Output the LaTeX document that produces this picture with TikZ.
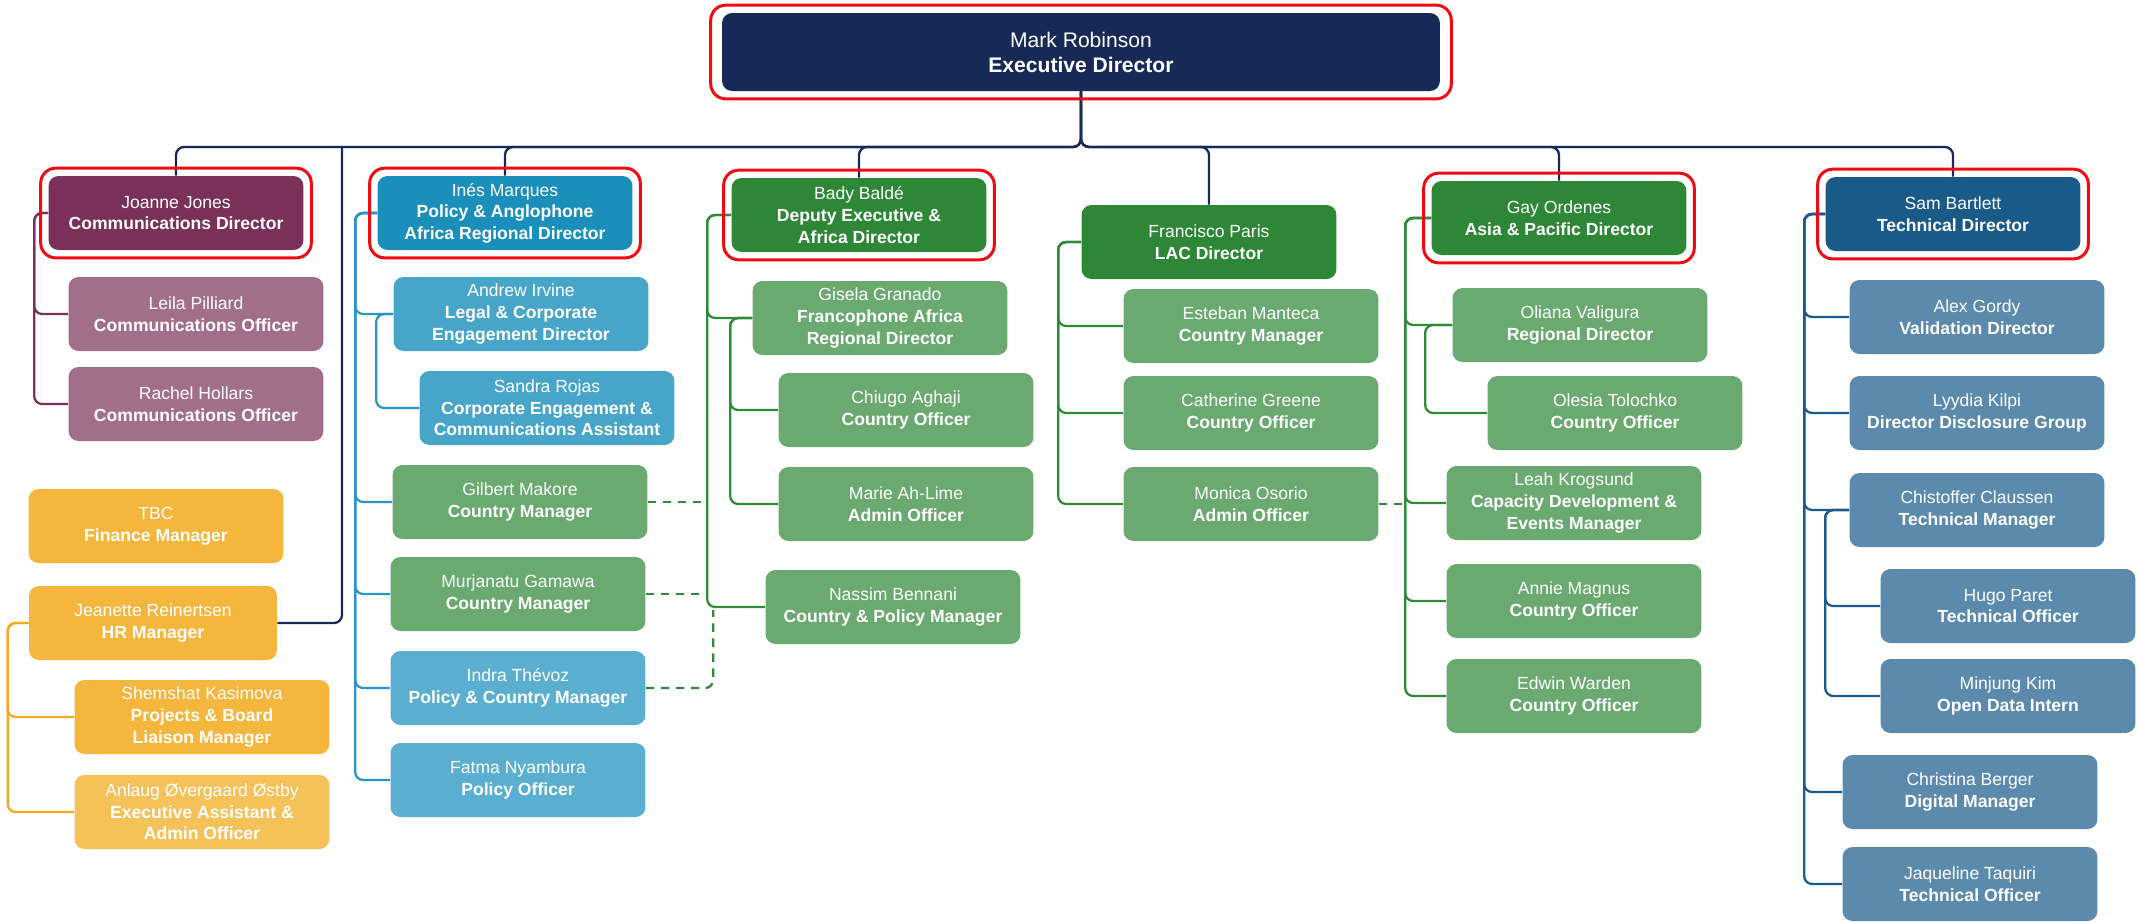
\documentclass[tikz,border=0pt]{standalone}
\usepackage{fontspec}
\setmainfont{Liberation Sans}
\usetikzlibrary{fit}

\definecolor{navy}{HTML}{172956}
\definecolor{plumdark}{HTML}{7B3059}
\definecolor{plumlight}{HTML}{A26F8B}
\definecolor{amber}{HTML}{F5B63E}
\definecolor{amberlight}{HTML}{F5C25A}
\definecolor{amberline}{HTML}{F4A81E}
\definecolor{inesblue}{HTML}{1B8FBB}
\definecolor{skyA}{HTML}{48A5CA}
\definecolor{skyB}{HTML}{5AAFD0}
\definecolor{skyline}{HTML}{2B95C5}
\definecolor{leafdark}{HTML}{2E8637}
\definecolor{leaflight}{HTML}{6AA970}
\definecolor{leafline}{HTML}{2F8A3A}
\definecolor{samblue}{HTML}{1A5A88}
\definecolor{steel}{HTML}{5B8AAD}
\definecolor{steelline}{HTML}{1D5A8B}
\definecolor{hired}{HTML}{F20A12}

\newcommand{\who}[2]{{\mdseries #1}\\#2}

\tikzset{
  card/.style={rectangle, rounded corners=0.2cm, text=white, align=center,
    minimum width=5.1cm, minimum height=1.48cm, inner sep=2pt,
    font=\fontsize{10}{12.3}\selectfont\bfseries},
  hilite/.style={draw=hired, line width=1.7pt, rounded corners=0.3cm, inner sep=0.15cm},
  link/.style={line width=1.3pt, rounded corners=0.16cm},
  dotlink/.style={link, draw=leafline, dash pattern=on 0.17cm off 0.13cm},
}

\begin{document}
\begin{tikzpicture}[x=0.02cm, y=-0.02cm]
\useasboundingbox (0,0) rectangle (2141,921);

% top
\node [card, fill=navy, minimum width=14.36cm, minimum height=1.56cm,
  font=\fontsize{12}{14.2}\selectfont\bfseries] (mark) at (1081,52) {\who{Mark Robinson}{Executive Director}};
\coordinate (bus) at (1081,147);
\coordinate (hrtop) at (342,147);

% communications and operations
\node [card, fill=plumdark] (joanne) at (176,213) {\who{Joanne Jones}{Communications Director}};
\node [card, fill=plumlight] (leila) at (196,314) {\who{Leila Pilliard}{Communications Officer}};
\node [card, fill=plumlight] (rachel) at (196,404) {\who{Rachel Hollars}{Communications Officer}};
\node [card, fill=amber] (tbc) at (156,526) {\who{TBC}{Finance Manager}};
\node [card, fill=amber, minimum width=4.96cm] (jeanette) at (153,623) {\who{Jeanette Reinertsen}{HR Manager}};
\node [card, fill=amber] (shemshat) at (202,717) {\who{Shemshat Kasimova}{Projects \& Board\\Liaison Manager}};
\node [card, fill=amberlight] (anlaug) at (202,812) {\who{Anlaug Øvergaard Østby}{Executive Assistant \&\\Admin Officer}};

% policy
\node [card, fill=inesblue] (ines) at (505,213) {\who{Inés Marques}{Policy \& Anglophone\\Africa Regional Director}};
\node [card, fill=skyA] (andrew) at (521,314) {\who{Andrew Irvine}{Legal \& Corporate\\Engagement Director}};
\node [card, fill=skyA] (sandra) at (547,408) {\who{Sandra Rojas}{Corporate Engagement \&\\Communications Assistant}};
\node [card, fill=leaflight] (gilbert) at (520,502) {\who{Gilbert Makore}{Country Manager}};
\node [card, fill=leaflight] (murjanatu) at (518,594) {\who{Murjanatu Gamawa}{Country Manager}};
\node [card, fill=skyB] (indra) at (518,688) {\who{Indra Thévoz}{Policy \& Country Manager}};
\node [card, fill=skyB] (fatma) at (518,780) {\who{Fatma Nyambura}{Policy Officer}};

% africa
\node [card, fill=leafdark] (bady) at (859,215) {\who{Bady Baldé}{Deputy Executive \&\\Africa Director}};
\node [card, fill=leaflight] (gisela) at (880,318) {\who{Gisela Granado}{Francophone Africa\\Regional Director}};
\node [card, fill=leaflight] (chiugo) at (906,410) {\who{Chiugo Aghaji}{Country Officer}};
\node [card, fill=leaflight] (marie) at (906,504) {\who{Marie Ah-Lime}{Admin Officer}};
\node [card, fill=leaflight] (nassim) at (893,607) {\who{Nassim Bennani}{Country \& Policy Manager}};

% lac
\node [card, fill=leafdark] (francisco) at (1209,242) {\who{Francisco Paris}{LAC Director}};
\node [card, fill=leaflight] (esteban) at (1251,326) {\who{Esteban Manteca}{Country Manager}};
\node [card, fill=leaflight] (catherine) at (1251,413) {\who{Catherine Greene}{Country Officer}};
\node [card, fill=leaflight] (monica) at (1251,504) {\who{Monica Osorio}{Admin Officer}};

% asia
\node [card, fill=leafdark] (gay) at (1559,218) {\who{Gay Ordenes}{Asia \& Pacific Director}};
\node [card, fill=leaflight] (oliana) at (1580,325) {\who{Oliana Valigura}{Regional Director}};
\node [card, fill=leaflight] (olesia) at (1615,413) {\who{Olesia Tolochko}{Country Officer}};
\node [card, fill=leaflight] (leah) at (1574,503) {\who{Leah Krogsund}{Capacity Development \&\\Events Manager}};
\node [card, fill=leaflight] (annie) at (1574,601) {\who{Annie Magnus}{Country Officer}};
\node [card, fill=leaflight] (edwin) at (1574,696) {\who{Edwin Warden}{Country Officer}};

% technical
\node [card, fill=samblue] (sam) at (1953,214) {\who{Sam Bartlett}{Technical Director}};
\node [card, fill=steel] (alex) at (1977,317) {\who{Alex Gordy}{Validation Director}};
\node [card, fill=steel] (lyydia) at (1977,413) {\who{Lyydia Kilpi}{Director Disclosure Group}};
\node [card, fill=steel] (chistoffer) at (1977,510) {\who{Chistoffer Claussen}{Technical Manager}};
\node [card, fill=steel] (hugo) at (2008,606) {\who{Hugo Paret}{Technical Officer}};
\node [card, fill=steel] (minjung) at (2008,696) {\who{Minjung Kim}{Open Data Intern}};
\node [card, fill=steel] (christina) at (1970,792) {\who{Christina Berger}{Digital Manager}};
\node [card, fill=steel] (jaqueline) at (1970,884) {\who{Jaqueline Taquiri}{Technical Officer}};

% lines
\foreach \d in {joanne,ines,bady,francisco,gay,sam}
  \draw [link, draw=navy] (mark.south) -- (bus) -| (\d.north);
\draw [link, draw=navy] (hrtop) |- (jeanette.east);

\foreach \c in {leila,rachel}
  \draw [link, draw=plumdark] (joanne.west) -- ++(-14,0) |- (\c.west);
\foreach \c in {shemshat,anlaug}
  \draw [link, draw=amberline] (jeanette.west) -- ++(-21,0) |- (\c.west);
\foreach \c in {andrew,gilbert,murjanatu,indra,fatma}
  \draw [link, draw=skyline] (ines.west) -- ++(-22,0) |- (\c.west);
\draw [link, draw=skyline] (andrew.west) -- ++(-17,0) |- (sandra.west);
\foreach \c in {gisela,nassim}
  \draw [link, draw=leafline] (bady.west) -- ++(-24,0) |- (\c.west);
\foreach \c in {chiugo,marie}
  \draw [link, draw=leafline] (gisela.west) -- ++(-22,0) |- (\c.west);
\foreach \c in {esteban,catherine,monica}
  \draw [link, draw=leafline] (francisco.west) -- ++(-23,0) |- (\c.west);
\foreach \c in {oliana,leah,annie,edwin}
  \draw [link, draw=leafline] (gay.west) -- ++(-26,0) |- (\c.west);
\draw [link, draw=leafline] (oliana.west) -- ++(-27,0) |- (olesia.west);
\foreach \c in {alex,lyydia,chistoffer,christina,jaqueline}
  \draw [link, draw=steelline] (sam.west) -- ++(-21,0) |- (\c.west);
\foreach \c in {hugo,minjung}
  \draw [link, draw=steelline] (chistoffer.west) -- ++(-24,0) |- (\c.west);

% dotted reporting lines
\path (bady.west) ++(-24,0) coordinate (bline);
\path (gay.west) ++(-26,0) coordinate (gline);
\path (bline |- nassim.west) ++(6,3) coordinate (dtop);
\draw [dotlink] (gilbert.east) -- (gilbert.east -| bline);
\draw [dotlink] (murjanatu.east) -- (murjanatu.east -| bline);
\draw [dotlink] (indra.east) -| (dtop);
\draw [dotlink] (monica.east) -- (monica.east -| gline);

% highlights
\node [hilite, inner xsep=0.22cm, fit=(mark)] (markframe) {};
\foreach \d in {joanne,ines,bady,gay,sam}
  \node [hilite, fit=(\d)] (\d frame) {};

\end{tikzpicture}
\end{document}
